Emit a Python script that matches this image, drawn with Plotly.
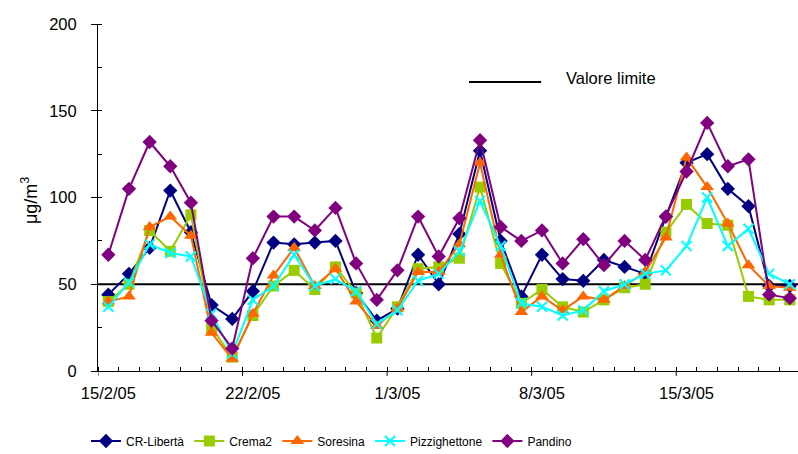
import plotly.graph_objects as go

# ---- data ----
dates = ["15/2", "16/2", "17/2", "18/2", "19/2", "20/2", "21/2", "22/2", "23/2", "24/2",
         "25/2", "26/2", "27/2", "28/2", "1/3", "2/3", "3/3", "4/3", "5/3", "6/3",
         "7/3", "8/3", "9/3", "10/3", "11/3", "12/3", "13/3", "14/3", "15/3", "16/3",
         "17/3", "18/3", "19/3", "20/3"]
tick_index = [0, 7, 14, 21, 28]
tick_labels = ["15/2/05", "22/2/05", "1/3/05", "8/3/05", "15/3/05"]

cr_liberta = [44, 56, 71, 104, 80, 38, 30, 46, 74, 73, 74, 75, 45, 29, 36, 67, 50, 79, 127, 75,
              43, 67, 53, 52, 64, 60, 56, 89, 120, 125, 105, 95, 49, 49]
crema2 = [40, 50, 81, 69, 90, 25, 8, 32, 49, 58, 47, 60, 45, 19, 37, 59, 60, 65, 106, 62,
          39, 47, 37, 34, 41, 48, 50, 80, 96, 85, 84, 43, 41, 41]
soresina = [40, 43, 83, 89, 78, 22, 7, 33, 55, 71, 49, 59, 40, 26, 36, 57, 57, 73, 120, 67,
            34, 43, 35, 43, 41, 49, 57, 77, 123, 106, 85, 61, 49, 48]
pizzighettone = [37, 51, 73, 68, 66, 33, 10, 41, 49, 67, 49, 53, 46, 27, 35, 52, 56, 69, 98, 72,
                 39, 37, 32, 35, 46, 50, 56, 58, 72, 100, 72, 82, 56, 50]
pandino = [67, 105, 132, 118, 97, 29, 13, 65, 89, 89, 81, 94, 62, 41, 58, 89, 66, 88, 133, 83,
           75, 81, 62, 76, 61, 75, 64, 89, 115, 143, 118, 122, 44, 42]

limit_value = 50
limit_label = "Valore limite"

series = [
    ("CR-Libertà", cr_liberta, "#000080", "diamond", 11),
    ("Crema2", crema2, "#99CC00", "square", 11),
    ("Soresina", soresina, "#FF6600", "triangle-up", 12),
    ("Pizzighettone", pizzighettone, "#00FFFF", "x-thin-open", 10),
    ("Pandino", pandino, "#800080", "diamond", 11),
]

x = list(range(len(dates)))

fig = go.Figure()
for name, vals, color, sym, size in series:
    marker = dict(symbol=sym, size=size, color=color)
    if sym.startswith("x-thin"):
        marker["line"] = dict(color=color, width=2)
    fig.add_trace(go.Scatter(
        x=x, y=vals, name=name, mode="lines+markers",
        line=dict(color=color, width=2), marker=marker, cliponaxis=False,
    ))

font = "Liberation Sans, Arial, sans-serif"

# limit line (behind the series)
fig.add_shape(type="line", xref="paper", x0=0, x1=1, yref="y", y0=limit_value, y1=limit_value,
              line=dict(color="black", width=2), layer="below")

# weekly boundary ticks (outside)
for t in tick_index:
    fig.add_shape(type="line", xref="x", x0=t - 0.5, x1=t - 0.5, yref="paper", y0=0, y1=-0.014,
                  line=dict(color="black", width=1))

# legend key for the limit line
fig.add_shape(type="line", xref="paper", yref="paper", x0=0.530, x1=0.633, y0=0.833, y1=0.833,
              line=dict(color="black", width=2))
fig.add_annotation(text=limit_label, xref="paper", yref="paper", x=0.666, y=0.845,
                   xanchor="left", yanchor="middle", showarrow=False,
                   font=dict(family=font, size=16.5, color="black"))

# y axis title
fig.add_annotation(text="μg/m<sup>3</sup>", xref="paper", yref="paper", x=-0.097, y=0.49,
                   textangle=-90, showarrow=False, xanchor="center", yanchor="middle",
                   font=dict(family=font, size=18, color="black"))

fig.update_layout(
    width=798, height=454,
    margin=dict(l=98, r=0, t=24, b=83),
    paper_bgcolor="white", plot_bgcolor="white",
    font=dict(family=font, size=16, color="black"),
    showlegend=True,
    legend=dict(orientation="h", xref="container", yref="container",
                x=86 / 798, xanchor="left", y=(454 - 441) / 454, yanchor="middle",
                font=dict(family=font, size=12, color="black"),
                itemwidth=30, tracegroupgap=0, bgcolor="rgba(0,0,0,0)"),
    xaxis=dict(
        range=[-0.5, -0.5 + 700 / 20.65], showgrid=False, zeroline=False,
        showline=True, linecolor="black", linewidth=1,
        tickmode="array", tickvals=tick_index, ticktext=tick_labels,
        ticks="", tickfont=dict(family=font, size=16.5), ticklabelstandoff=7,
        minor=dict(tick0=-0.5, dtick=1, ticks="inside", ticklen=4, tickcolor="black", showgrid=False),
    ),
    yaxis=dict(
        range=[0, 200], showgrid=False, zeroline=False,
        showline=True, linecolor="black", linewidth=1,
        tickmode="linear", tick0=0, dtick=50, ticks="outside", ticklen=6, tickcolor="black",
        tickfont=dict(family=font, size=16.5), ticklabelstandoff=11,
        minor=dict(dtick=25, ticks="inside", ticklen=4, tickcolor="black", showgrid=False),
    ),
)

fig.write_html("out.html", config={"displayModeBar": False},
               post_script="document.body.style.margin='0px';")
